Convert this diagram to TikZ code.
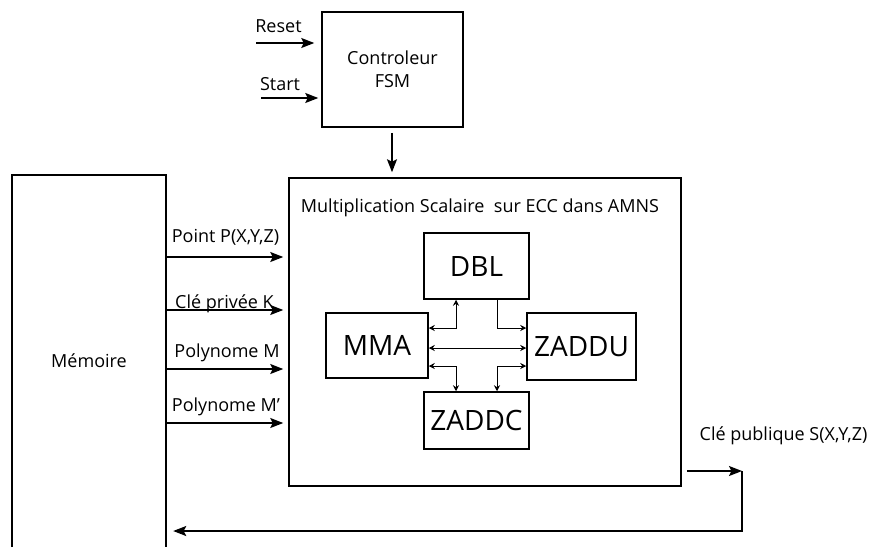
\documentclass[tikz,border=0pt]{standalone}
\usepackage{fontspec}
\setmainfont{Open Sans}
\usetikzlibrary{arrows.meta}
\begin{document}
\begin{tikzpicture}[x=1pt,y=-1pt,
  box/.style={draw, line width=1.5pt, inner sep=0pt},
  arr/.style={line width=1.6pt, -{Stealth[length=13pt,width=10pt,inset=2.5pt]}},
  sarr/.style={line width=1pt, {Stealth[length=6pt,width=6pt]}-{Stealth[length=6pt,width=6pt]}},
  sarrr/.style={line width=1pt, -{Stealth[length=6pt,width=6pt]}},
  lbl/.style={font=\fontsize{18}{21}\selectfont, inner sep=0pt, anchor=base},
  big/.style={font=\fontsize{28}{32}\selectfont}
]
\useasboundingbox (0,0) rectangle (869,547);

% boxes
\node[box, minimum width=141pt, minimum height=115pt, align=center,
      font=\fontsize{18}{23}\selectfont] (ctrl) at (392.5,69.5) {Controleur\\FSM};
\node[box, minimum width=392pt, minimum height=308pt] (main) at (485,332) {};
\node[minimum width=154pt, minimum height=372pt, inner sep=0pt,
      font=\fontsize{18}{21}\selectfont] (mem) at (89,361) {Mémoire};
\draw[line width=1.5pt] (mem.south west) |- (mem.north east) -- (mem.south east);

\node[box, big, minimum width=105pt, minimum height=66pt] (dbl) at (476.5,266) {DBL};
\node[box, big, minimum width=102pt, minimum height=65pt] (mma) at (377,345.5) {MMA};
\node[box, big, minimum width=109pt, minimum height=67pt] (zaddu) at (581.5,346.5) {ZADDU};
\node[box, big, minimum width=105pt, minimum height=57pt] (zaddc) at (476.5,420.5) {ZADDC};

% title
\node[lbl] (title) at (480,212) {Multiplication Scalaire\ \ sur ECC dans AMNS};

% inputs of controller
\coordinate (rst) at (256,43);
\coordinate (stt) at (261,98);
\draw[arr, shorten >=7pt] (rst) -- (ctrl.west |- rst);
\draw[arr, shorten >=3pt] (stt) -- (ctrl.west |- stt);
\node[lbl] (lrst) at (278.5,32) {Reset};
\node[lbl] (lstt) at (280,90) {Start};

% controller to main
\draw[arr, shorten <=5pt, shorten >=5pt] (ctrl.south -| 392,0) -- (main.north -| 392,0);

% memory outputs
\draw[arr, shorten >=5pt] (mem.east |- 0,257) -- (main.west |- 0,257);
\draw[arr, shorten >=5pt] (mem.east |- 0,310) -- (main.west |- 0,310);
\draw[arr, shorten >=5pt] (mem.east |- 0,369) -- (main.west |- 0,369);
\draw[arr, shorten >=5pt] (mem.east |- 0,423) -- (main.west |- 0,423);
\node[lbl] (l1) at (225.5,242) {Point P(X,Y,Z)};
\node[lbl] (l2) at (224.5,308) {Clé privée K};
\node[lbl] (l3) at (227,357) {Polynome M};
\node[lbl] (l4) at (226,411) {Polynome M’};

% output
\coordinate (turn) at (742,471);
\draw[arr, shorten <=5pt] (main.east |- turn) -- (turn);
\draw[arr, shorten >=7pt] (turn) -- (turn |- 0,531) -- (mem.east |- 0,531);
\node[lbl] (lout) at (783.5,440) {Clé publique S(X,Y,Z)};

% internal connections
\coordinate (va) at (456,0);
\coordinate (vb) at (497,0);
\draw[sarr] (mma.east |- 0,328) -| (dbl.south -| va);
\draw[sarrr] (dbl.south -| vb) |- (zaddu.west |- 0,328);
\draw[sarr] (mma.east |- 0,348) -- (zaddu.west |- 0,348);
\draw[sarr] (mma.east |- 0,366) -| (zaddc.north -| va);
\draw[sarr] (zaddu.west |- 0,366) -| (zaddc.north -| vb);
\end{tikzpicture}
\end{document}
